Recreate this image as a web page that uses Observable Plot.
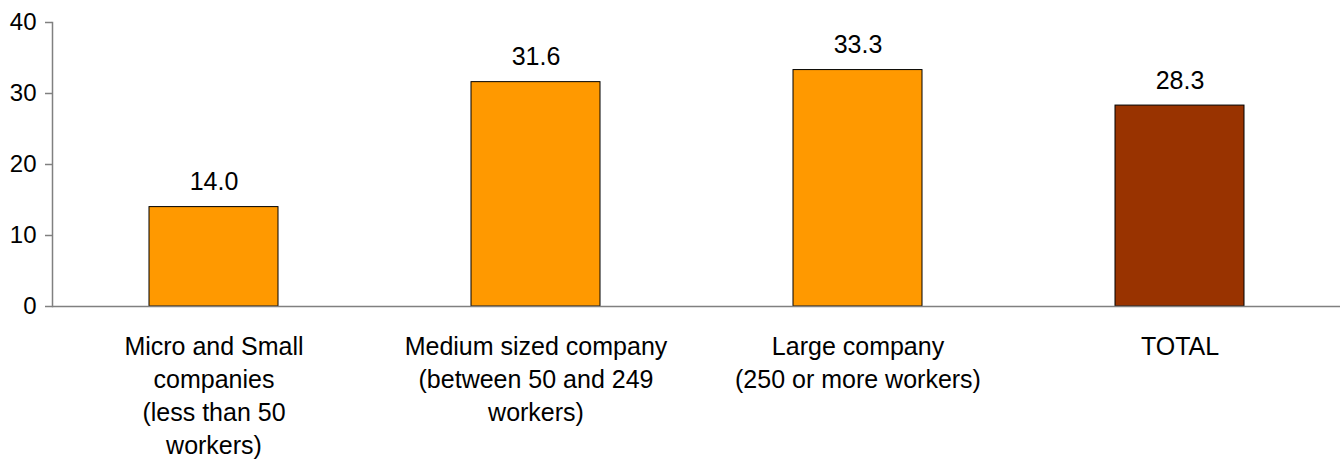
<!DOCTYPE html>
<html>
<head>
<meta charset="utf-8">
<script src="https://cdn.jsdelivr.net/npm/d3@7"></script>
<script src="https://cdn.jsdelivr.net/npm/@observablehq/plot@0.6"></script>
<style>
  html, body { margin: 0; padding: 0; background: #fff; }
  #chart svg { display: block; }
</style>
</head>
<body>
<div id="chart"></div>
<script>
const categories = [
  "Micro and Small\ncompanies\n(less than 50\nworkers)",
  "Medium sized company\n(between 50 and 249\nworkers)",
  "Large company\n(250 or more workers)",
  "TOTAL"
];
const values = [14.0, 31.6, 33.3, 28.3];
const barColors = ["#FF9900", "#FF9900", "#FF9900", "#993300"];
const yTicks = [0, 10, 20, 30, 40];

const data = categories.map((c, i) => ({cat: c, value: values[i], color: barColors[i]}));

const chart = Plot.plot({
  width: 1341,
  height: 461,
  marginTop: 22,
  marginBottom: 155,
  marginLeft: 52,
  marginRight: 1,
  style: {fontFamily: "'Liberation Sans', Arial, sans-serif", fontSize: "24px", color: "#000", background: "#fff"},
  x: {domain: categories, paddingInner: 0.6, paddingOuter: 0.3, align: 0.5},
  y: {domain: [0, 40]},
  marks: [
    Plot.barY(data, {x: "cat", y: "value", fill: "color", stroke: "#000", strokeWidth: 1}),
    Plot.text(data, {x: "cat", y: "value", text: d => d.value.toFixed(1), dy: -25, fontSize: 25, fill: "#000"}),
    Plot.ruleY([0], {stroke: "#808080", strokeWidth: 1.5}),
    Plot.frame({anchor: "left", stroke: "#808080", strokeWidth: 1.5}),
    Plot.axisY({ticks: yTicks, tickSize: 7, tickPadding: 9, stroke: "#808080", strokeWidth: 1.5, fill: "#000", fontSize: 24, label: null}),
    Plot.axisX({tickSize: 0, tickPadding: 25, fontSize: 25, lineHeight: 1.32, fill: "#000", label: null})
  ]
});
document.getElementById("chart").appendChild(chart);
</script>
</body>
</html>
